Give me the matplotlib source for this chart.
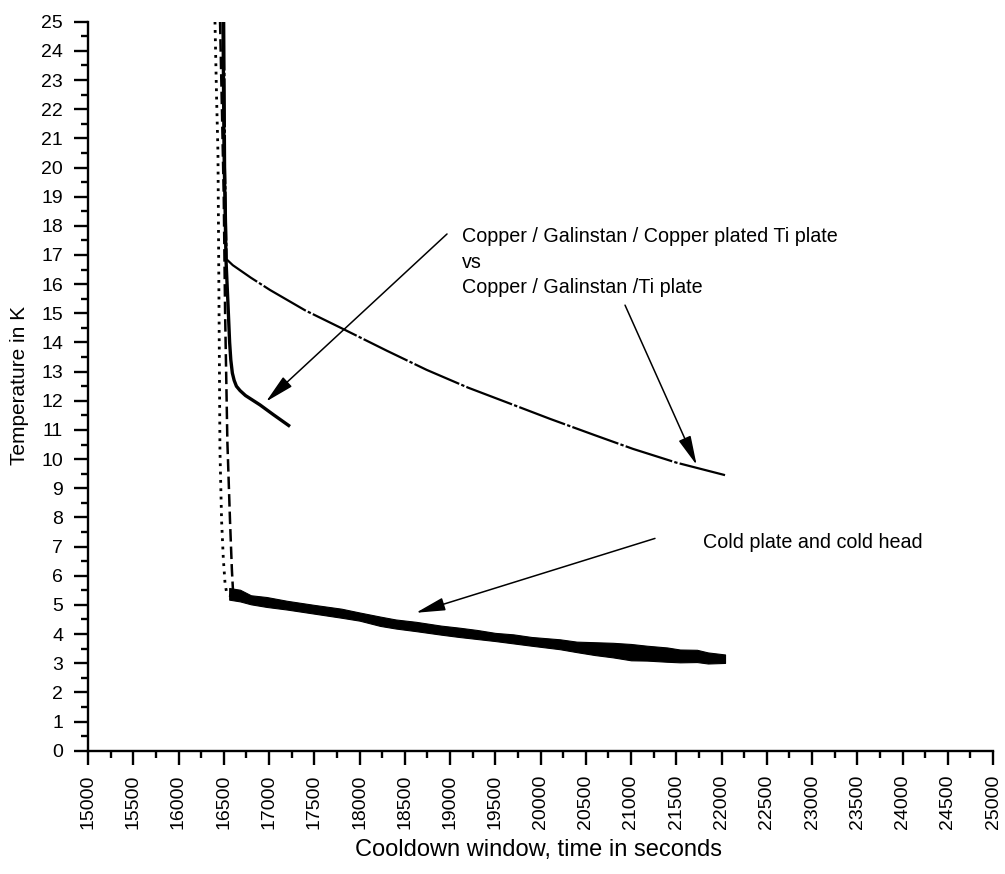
import matplotlib
matplotlib.use("Agg")
import matplotlib.pyplot as plt
from matplotlib.ticker import MultipleLocator

plt.rcParams['font.family'] = ['Liberation Sans', 'DejaVu Sans']

# ---- data ----
# Cold head (dotted), steep cooldown part
head_t = [16403, 16420, 16436, 16447, 16458, 16476, 16495, 16514, 16530, 16547, 16600, 16680]
head_T = [25.0, 22.5, 20.5, 15.5, 10.3, 7.9, 6.6, 5.75, 5.45, 5.34, 5.3, 5.3]

# Cold plate (dashed), steep cooldown part
plate_t = [16459, 16480, 16500, 16515, 16540, 16569, 16590, 16602, 16630, 16680]
plate_T = [25.0, 22.0, 19.0, 15.0, 10.6, 7.9, 6.2, 5.5, 5.4, 5.35]

# Noisy plateau band of cold plate and cold head (lower / upper envelope)
band_t = [16560, 16680, 16800, 16974, 17200, 17500, 17800, 18000, 18227, 18400, 18624,
          18900, 19100, 19300, 19500, 19700, 19900, 20215, 20400, 20600, 20801, 21000,
          21177, 21400, 21541, 21729, 21850, 22039]
band_lo = [5.18, 5.12, 5.02, 4.93, 4.84, 4.70, 4.56, 4.46, 4.28, 4.19, 4.10,
           3.98, 3.90, 3.83, 3.76, 3.68, 3.60, 3.48, 3.38, 3.28, 3.20, 3.10,
           3.09, 3.05, 3.03, 3.04, 2.99, 3.01]
band_hi = [5.58, 5.52, 5.33, 5.27, 5.14, 5.00, 4.87, 4.74, 4.60, 4.50, 4.42,
           4.29, 4.22, 4.14, 4.04, 3.99, 3.90, 3.82, 3.74, 3.72, 3.70, 3.66,
           3.60, 3.54, 3.47, 3.46, 3.37, 3.30]

# Copper / Galinstan / Copper plated Ti plate (solid)
cuti_t = [16492, 16503, 16525, 16547, 16565, 16578, 16595, 16615, 16640, 16680, 16740,
          16820, 16900, 17050, 17232]
cuti_T = [25.0, 20.6, 16.82, 15.3, 14.0, 13.4, 12.95, 12.7, 12.5, 12.35, 12.18,
          12.02, 11.86, 11.52, 11.12]

# Copper / Galinstan / Ti plate (thin)
ti_t = [16505, 16515, 16532, 16600, 16800, 17011, 17400, 17840, 18300, 18742, 19200,
        19700, 20105, 20600, 21022, 21500, 22039]
ti_T = [25.0, 20.0, 16.85, 16.65, 16.22, 15.8, 15.1, 14.43, 13.72, 13.06, 12.45,
        11.86, 11.38, 10.82, 10.35, 9.88, 9.45]

x_label = "Cooldown window, time in seconds"
y_label = "Temperature in K"

# ---- figure ----
fig = plt.figure(figsize=(10.05, 8.74), dpi=100)
ax = fig.add_axes([88/1005, 1-750.7/874, 905/1005, (750.7-21.7)/874])

ax.fill_between(band_t, band_lo, band_hi, color='black', linewidth=0.8)
ax.plot(head_t, head_T, color='black', lw=2.0, linestyle=(0, (1, 2)))
ax.plot(plate_t, plate_T, color='black', lw=1.8, linestyle=(0, (5, 2)))
ax.plot(cuti_t, cuti_T, color='black', lw=2.4, solid_capstyle='butt')
ax.plot(ti_t, ti_T, color='black', lw=1.6, linestyle=(0, (22, 1, 1.5, 1)))

ax.set_xlim(15000, 25000)
ax.set_ylim(0, 25)
ax.xaxis.set_major_locator(MultipleLocator(500))
ax.xaxis.set_minor_locator(MultipleLocator(250))
ax.yaxis.set_major_locator(MultipleLocator(1))
ax.yaxis.set_minor_locator(MultipleLocator(0.5))

for s in ['top', 'right']:
    ax.spines[s].set_visible(False)
for s in ['left', 'bottom']:
    ax.spines[s].set_linewidth(1.7)

ax.tick_params(axis='both', which='major', length=10, width=1.7, direction='out',
               labelsize=14)
ax.tick_params(axis='x', which='major', pad=7, labelrotation=90)
ax.tick_params(axis='y', which='major', pad=8)
ax.tick_params(axis='both', which='minor', length=5, width=1.7, direction='out')

ax.set_xlabel(x_label, fontsize=17, va='center')
ax.set_ylabel(y_label, fontsize=15, va='center')
ax.xaxis.set_label_coords(0.5 - 0.002, (750.7-850)/729.0)
ax.yaxis.set_label_coords((20-88)/905, 0.5 - (385-386.2)/729.0)

# ---- annotations ----
arrow = dict(arrowstyle='-|>,head_length=0.9,head_width=0.2', color='black', lw=1.1,
             shrinkA=0, shrinkB=0, mutation_scale=20)
ax.annotate('', xy=(16967, 11.97), xytext=(18967, 17.72), arrowprops=arrow)
ax.annotate('', xy=(21725, 9.80), xytext=(20934, 15.28), arrowprops=arrow)
ax.annotate('', xy=(18624, 4.73), xytext=(21265, 7.28), arrowprops=arrow)

tfs = 14.2
ax.text(19129, 17.46, "Copper / Galinstan / Copper plated Ti plate", fontsize=tfs, va='baseline')
ax.text(19129, 16.57, "vs", fontsize=tfs, va='baseline')
ax.text(19129, 15.69, "Copper / Galinstan /Ti plate", fontsize=tfs, va='baseline')
ax.text(21792, 6.94, "Cold plate and cold head", fontsize=tfs, va='baseline')

fig.savefig("out.png", dpi=100)
